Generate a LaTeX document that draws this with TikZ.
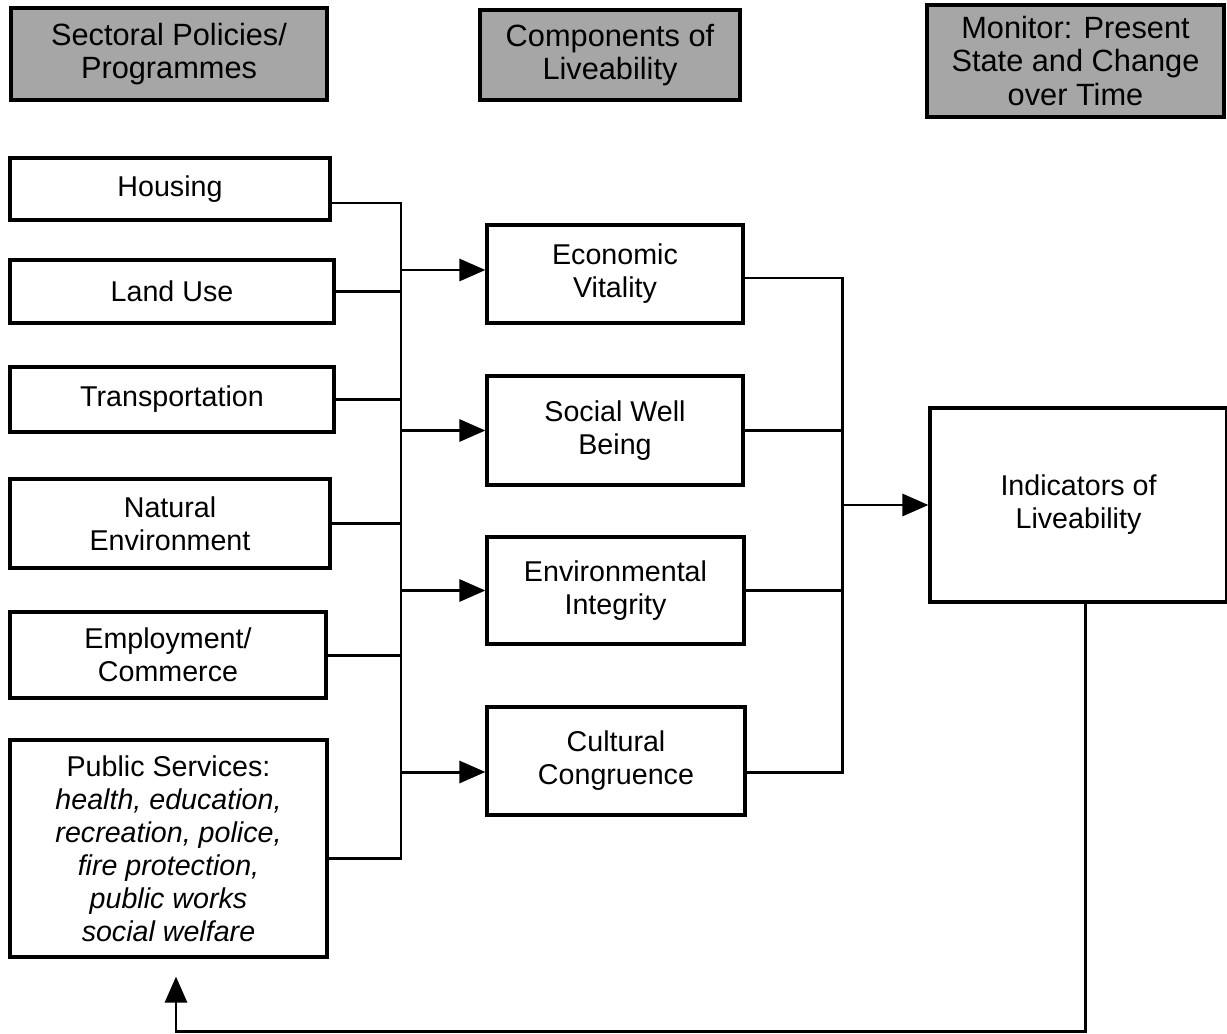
\documentclass[tikz,border=0pt]{standalone}
\usepackage{fontspec}
\setmainfont{Liberation Sans}
\usetikzlibrary{arrows.meta}
\begin{document}
\begin{tikzpicture}[x=0.02cm,y=-0.02cm,
  every node/.style={font=\fontsize{16.3}{18.8}\selectfont, align=center, inner sep=0pt},
  box/.style={draw, line width=1.8pt, rectangle, fill=white},
  head/.style={draw, line width=1.8pt, rectangle, fill=black!35, font=\fontsize{17.5}{19}\selectfont},
  conn/.style={line width=1.7pt},
  arr/.style={line width=1.7pt, -{Triangle[length=0.52cm,width=0.44cm]}}]
\useasboundingbox (0,0) rectangle (1227,1034);
% headers
\node[head, minimum width=316*0.02cm, minimum height=92*0.02cm] (h1) at (169,54) {Sectoral Policies/\\Programmes};
\node[head, minimum width=260*0.02cm, minimum height=90*0.02cm] (h2) at (610,55) {Components of\\Liveability};
\node[head, minimum width=297*0.02cm, minimum height=112*0.02cm] (h3) at (1075.5,61) {Monitor: Present\\State and Change\\over Time};
% left column
\node[box, minimum width=320*0.02cm, minimum height=62*0.02cm] (housing) at (170,189) {Housing};
\node[box, minimum width=324*0.02cm, minimum height=63*0.02cm] (landuse) at (172,291.5) {Land Use};
\node[box, minimum width=324*0.02cm, minimum height=65*0.02cm] (transport) at (172,399.5) {Transportation};
\node[box, minimum width=320*0.02cm, minimum height=89*0.02cm] (natural) at (170,523.5) {Natural\\Environment};
\node[box, minimum width=316*0.02cm, minimum height=86*0.02cm] (employ) at (168,655) {Employment/\\Commerce};
\node[box, minimum width=317*0.02cm, minimum height=217*0.02cm] (public) at (168.5,848.5) {Public Services:\\\itshape health, education,\\\itshape recreation, police,\\\itshape fire protection,\\\itshape public works\\\itshape social welfare};
% middle column
\node[box, minimum width=256*0.02cm, minimum height=98*0.02cm] (econ) at (615,274) {Economic\\Vitality};
\node[box, minimum width=256*0.02cm, minimum height=109*0.02cm] (social) at (615,430.5) {Social Well\\Being};
\node[box, minimum width=257*0.02cm, minimum height=107*0.02cm] (env) at (615.5,590.5) {Environmental\\Integrity};
\node[box, minimum width=258*0.02cm, minimum height=108*0.02cm] (cult) at (616,761) {Cultural\\Congruence};
% right
\node[box, minimum width=297*0.02cm, minimum height=194*0.02cm] (ind) at (1078.5,505) {Indicators of\\Liveability};
% left bus
\coordinate (bt) at (401,203);
\coordinate (bb) at (401,858);
\coordinate (cy) at (0,772);
\coordinate (ey) at (0,270);
\draw[conn] (housing.east |- bt) -- (bt) -- (bb) -- (public.east |- bb);
\draw[conn] (landuse.east) -- (landuse.east -| bt);
\draw[conn] (transport.east) -- (transport.east -| bt);
\draw[conn] (natural.east) -- (natural.east -| bt);
\draw[conn] (employ.east) -- (employ.east -| bt);
\draw[arr] (bt |- ey) -- (econ.west |- ey);
\draw[arr] (bt |- social.west) -- (social.west);
\draw[arr] (bt |- env.west) -- (env.west);
\draw[arr] (bt |- cy) -- (cult.west |- cy);
% right bus
\coordinate (rt) at (842,278);
\coordinate (rb) at (842,772);
\draw[conn] (econ.east |- rt) -- (rt) -- (rb) -- (cult.east |- rb);
\draw[conn] (social.east) -- (social.east -| rt);
\draw[conn] (env.east) -- (env.east -| rt);
\draw[arr] (rt |- ind.west) -- (ind.west);
% feedback
\coordinate (f1) at (1085,1031);
\coordinate (f2) at (176,1031);
\draw[arr, shorten >=0.36cm] (ind.south -| f1) -- (f1) -- (f2) -- (public.south -| f2);
\end{tikzpicture}
\end{document}
